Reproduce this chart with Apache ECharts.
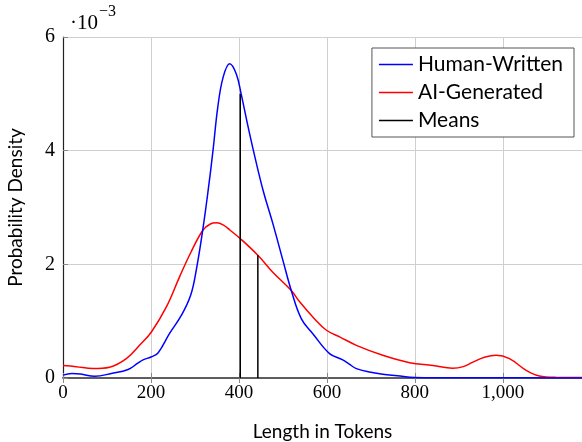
<!DOCTYPE html>
<html>
<head>
<meta charset="utf-8">
<script src="https://cdn.jsdelivr.net/npm/echarts@6/dist/echarts.min.js"></script>
<style>
html,body{margin:0;padding:0;background:#fff;}
#main{width:582px;height:442px;}
</style>
</head>
<body>
<div id="main"></div>
<script>
// density values in units of 1e-3
var humanWritten = [[0,0.05],[20,0.08],[40,0.07],[72,0.03],[110,0.08],[148,0.15],[170,0.26],[182,0.32],[200,0.37],[216,0.44],[242,0.78],[269,1.10],[290,1.45],[303,1.9],[318,2.62],[330,3.30],[341,4.0],[352,4.77],[364,5.29],[379,5.53],[394,5.35],[405,5.0],[420,4.45],[436,3.9],[455,3.3],[477,2.72],[500,2.07],[519,1.54],[542,1.04],[568,0.78],[606,0.43],[636,0.32],[650,0.25],[667,0.165],[700,0.1],[727,0.065],[760,0.04],[800,0.01],[900,0.003],[1000,0.005],[1100,0.002],[1180,0.0]];
var aiGenerated = [[0,0.22],[30,0.2],[68,0.165],[106,0.19],[144,0.34],[174,0.575],[201,0.81],[235,1.25],[265,1.78],[290,2.2],[318,2.6],[335,2.71],[349,2.73],[365,2.69],[380,2.6],[402,2.46],[443,2.16],[477,1.86],[519,1.54],[538,1.34],[572,1.04],[599,0.84],[630,0.72],[667,0.575],[727,0.4],[788,0.27],[841,0.22],[886,0.17],[910,0.2],[932,0.28],[960,0.37],[985,0.40],[1015,0.34],[1053,0.135],[1083,0.035],[1120,0.012],[1180,0.01]];
var meanX = [403, 443];
var meanY = [5.0, 2.16];

var meansData = [];
for (var i = 0; i < meanX.length; i++) {
    if (i > 0) meansData.push('-');
    meansData.push([meanX[i], 0]);
    meansData.push([meanX[i], meanY[i]]);
}

var myChart = echarts.init(document.getElementById('main'));
var serif = '"Liberation Serif", "DejaVu Serif", serif';
var sans = 'Lato, "Noto Sans", sans-serif';
var lineIcon = 'path://M0,0L10,0L10,0.5L0,0.5Z';

var option = {
    backgroundColor: '#fff',
    animation: false,
    grid: {left: 63, top: 37, right: 0, bottom: 64, outerBoundsMode: 'none', containLabel: false},
    legend: {
        right: 8, top: 48,
        orient: 'vertical',
        backgroundColor: '#fff',
        borderColor: '#555',
        borderWidth: 1,
        padding: [6, 11, 6, 7],
        itemGap: 7,
        itemWidth: 34,
        itemHeight: 14,
        textStyle: {fontFamily: sans, fontSize: 21, color: '#000'},
        data: [
            {name: 'Human-Written', icon: lineIcon},
            {name: 'AI-Generated', icon: lineIcon},
            {name: 'Means', icon: lineIcon}
        ]
    },
    xAxis: [{
        type: 'value',
        min: 0, max: 1180, interval: 200,
        name: 'Length in Tokens',
        nameLocation: 'middle',
        nameGap: 44,
        nameTextStyle: {fontFamily: sans, fontSize: 19, color: '#000'},
        axisLine: {onZero: false, lineStyle: {color: '#555', width: 1.5}},
        axisTick: {inside: true, length: 5, lineStyle: {color: '#888'}},
        splitLine: {show: true, lineStyle: {color: '#cfcfcf', width: 1}},
        axisLabel: {
            fontFamily: serif, fontSize: 19, color: '#000', margin: 6,
            showMaxLabel: false,
            formatter: function (v) { return v >= 1000 ? '1,000' : String(v); }
        }
    }, {
        type: 'value',
        position: 'top',
        min: 0, max: 1180, interval: 200,
        axisLine: {show: true, lineStyle: {color: '#555', width: 1.5}},
        axisTick: {show: true, inside: true, length: 5, lineStyle: {color: '#888'}},
        axisLabel: {show: false},
        splitLine: {show: false}
    }],
    yAxis: {
        type: 'value',
        min: 0, max: 6, interval: 2,
        name: 'Probability Density',
        nameLocation: 'middle',
        nameGap: 38,
        nameTextStyle: {fontFamily: sans, fontSize: 19, color: '#000'},
        axisLine: {show: true, lineStyle: {color: '#222', width: 1.2}},
        axisTick: {show: true, inside: true, length: 5, lineStyle: {color: '#888'}},
        splitLine: {show: true, lineStyle: {color: '#cfcfcf', width: 1}},
        axisLabel: {fontFamily: serif, fontSize: 20, color: '#000', margin: 8}
    },
    graphic: [{
        type: 'text',
        left: 70, top: 4,
        style: {
            text: '{a|·10}{b|−3}',
            rich: {
                a: {fontFamily: serif, fontSize: 21, fill: '#000', padding: [9, 0, 0, 0]},
                b: {fontFamily: serif, fontSize: 16, fill: '#000', verticalAlign: 'top', padding: [0, 0, 10, 1]}
            }
        }
    }],
    series: [{
        name: 'Human-Written',
        type: 'line',
        smooth: 0.4,
        showSymbol: false,
        lineStyle: {color: '#0000ff', width: 1.5},
        itemStyle: {color: '#0000ff'},
        data: humanWritten,
        z: 3
    }, {
        name: 'AI-Generated',
        type: 'line',
        smooth: 0.4,
        showSymbol: false,
        lineStyle: {color: '#ff0000', width: 1.5},
        itemStyle: {color: '#ff0000'},
        data: aiGenerated,
        z: 2
    }, {
        name: 'Means',
        type: 'line',
        showSymbol: false,
        connectNulls: false,
        lineStyle: {color: '#000', width: 1.5},
        itemStyle: {color: '#000'},
        data: meansData,
        z: 4
    }]
};

myChart.setOption(option);
</script>
</body>
</html>
